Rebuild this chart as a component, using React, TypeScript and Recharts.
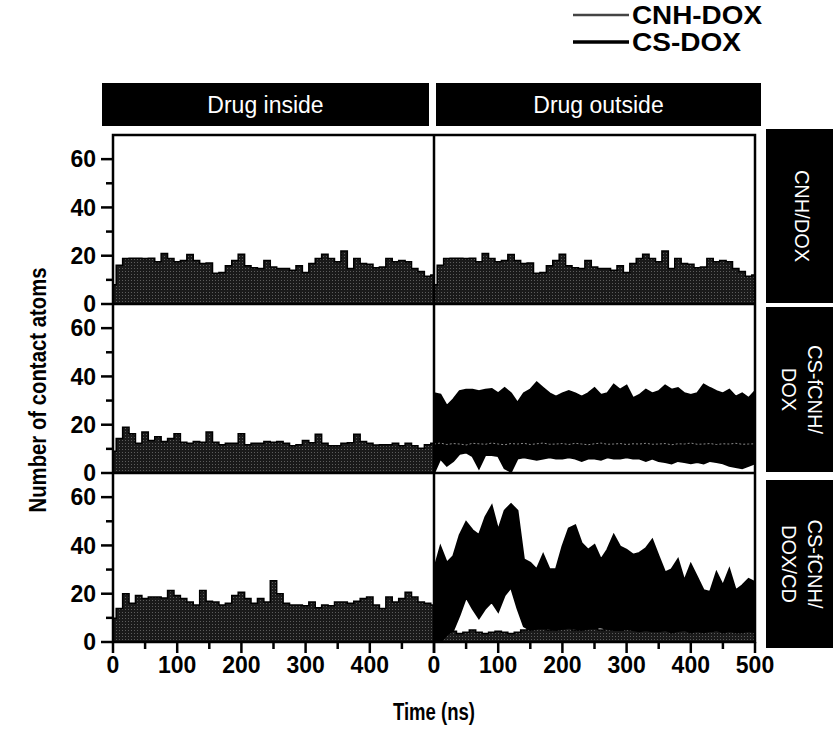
import React from 'react'
import { ComposedChart, Area, Line, XAxis, YAxis } from 'recharts'

// time axis of every panel (ns)
const TIME = [
  0, 10, 20, 30, 40, 50, 60, 70, 80, 90, 100, 110, 120, 130, 140, 150, 160, 170, 180, 190, 200,
  210, 220, 230, 240, 250, 260, 270, 280, 290, 300, 310, 320, 330, 340, 350, 360, 370, 380, 390,
  400, 410, 420, 430, 440, 450, 460, 470, 480, 490, 500,
]

// CNH/DOX row (the figure shows the same trace inside and outside)
const CNH_R1 = [
  8, 16, 18.8, 19, 19, 18.8, 19, 17.5, 20.9, 18.8, 17.5, 18, 20.5, 18, 16.8, 17, 12.7, 13, 15.8, 18,
  20.6, 15.8, 15, 14.7, 18, 15.3, 14.7, 14.7, 14, 15.8, 13, 16.8, 18.8, 20.6, 18.8, 17.5, 22, 14.7,
  18.8, 16.8, 16.5, 15, 15.3, 18.8, 17.5, 18, 17.5, 14.7, 13.5, 11.5, 12,
]

// CS-fCNH/DOX row
const CNH_R2_IN = [
  9, 14.3, 19, 16.3, 12.3, 17, 13.5, 15, 13, 14.3, 16.3, 12.7, 12.3, 13, 12.7, 17, 12.7, 11.7, 12.3,
  12.3, 16.3, 11.7, 12.3, 12.3, 13, 12.7, 13, 12.3, 11.3, 11.7, 13.5, 12.5, 16, 12.3, 11.3, 11.3,
  12.3, 12.5, 16, 13, 12.3, 11.6, 11.7, 11.7, 12.3, 11.3, 12.3, 11.3, 10.3, 11.7, 12.3,
]
const CNH_R2_OUT = [
  12, 12.4, 11.8, 12.2, 12, 11.6, 12.3, 12.1, 11.9, 12.4, 12, 11.7, 12.2, 12, 12.3, 11.8, 12.1, 12.4,
  11.9, 12, 12.2, 11.8, 12.3, 12, 11.7, 12.1, 12.4, 11.9, 12, 12.2, 11.8, 12.1, 12, 12.3, 11.9, 12,
  12.2, 11.7, 12.1, 12, 12.4, 11.9, 12, 12.2, 11.8, 12.1, 12, 12.3, 11.9, 12, 12.1,
]
const CS_R2_LOW = [
  0, 6, 3, 5, 8, 8.5, 7, 2, 7.5, 7.5, 7, 2, 0.5, 6, 6.5, 6, 5.5, 6, 6.5, 6, 6, 6.5, 6, 5, 6, 6, 5.5,
  6.5, 6, 6, 6.5, 6, 6, 5, 6, 5, 4.5, 4, 5, 4.5, 4, 4.5, 4, 5, 4.5, 4, 3, 2.5, 2, 3, 4,
]
const CS_R2_HIGH = [
  33, 32.5, 27.8, 30.5, 33.9, 34.5, 34.5, 33.9, 34.5, 34.8, 33, 35.2, 33, 29.1, 33, 34.5, 37.5, 35.2,
  33, 31.6, 33, 33.9, 33, 31.6, 33, 35.2, 32.3, 33, 36.6, 34.5, 36.2, 31, 32.3, 34.5, 33, 33.9, 36.2,
  34.5, 35.2, 33, 32.3, 33, 36.6, 35.2, 33.9, 33, 34.5, 31.6, 33, 31, 33.9,
]

// CS-fCNH/DOX/CD row
const CNH_R3_IN = [
  9.8, 13.9, 20, 16, 19.3, 18, 18.6, 18.6, 18.2, 21.3, 19.3, 18, 16.6, 15.3, 21.3, 16.9, 16.6, 15.3,
  16, 19.3, 20.6, 18, 16, 18, 16.6, 25.4, 20, 16, 15.3, 15.3, 15, 16.6, 14.2, 15.3, 15, 16.6, 16.6,
  16, 16.9, 18, 18.6, 15.3, 13.9, 18.6, 16.6, 18, 20.6, 18.6, 16.6, 16, 15.3,
]
const CNH_R3_OUT = [
  2, 3, 4, 4.5, 3.5, 4, 5, 4, 3.5, 4, 4.5, 4, 3.5, 4, 5, 5.5, 6, 5.5, 5, 6, 5.5, 6, 5, 5.5, 6, 5.5,
  5, 6, 5.5, 5, 6, 5.5, 5, 5.5, 6, 5, 5.5, 5, 5.5, 6, 5, 5.5, 5, 4.5, 5, 5.5, 5, 4.5, 5, 5.5, 5,
]
const CS_R3_LOW = [
  0, 0, 3, 4.8, 11.2, 18.6, 13.9, 9.9, 13.9, 16.6, 12.6, 19.3, 22.6, 13.9, 6.5, 5, 5.5, 6, 5.5, 5,
  5.5, 6, 5.5, 5, 5.5, 6, 6, 5.5, 5, 5, 5.5, 5, 4.5, 5, 4.5, 4.5, 5, 4, 4.5, 5, 4, 4.5, 4, 4.5, 5, 4,
  4.5, 4, 4, 4.5, 4,
]
const CS_R3_HIGH = [
  30, 39.5, 32.8, 35.5, 44.3, 49.7, 46.3, 44.3, 51.7, 56.4, 46.3, 54.4, 57.1, 54.4, 34.2, 32.8, 30.1,
  36.2, 30.1, 30.1, 39.5, 47, 48.3, 40.9, 38.2, 40.2, 34.2, 38.2, 44.3, 39.5, 38.2, 36.2, 36.9, 38.8,
  42.3, 35.5, 28.8, 30.1, 34.2, 25.4, 32.2, 26.8, 21.4, 20.7, 28.8, 23.4, 30.1, 21.4, 23.4, 26.1, 24.8,
]

const X_TICKS = [0, 50, 100, 150, 200, 250, 300, 350, 400, 450, 500]
const Y_TICKS = [0, 10, 20, 30, 40, 50, 60]
const ROW_LABELS = [['CNH/DOX'], ['CS-fCNH/', 'DOX'], ['CS-fCNH/', 'DOX/CD']]

const FONT = '"Liberation Sans", Arial, sans-serif'
const ROW_TOP = [135, 304, 473]
const ROW_H = 169
const COL_LEFT = [113, 434]
const COL_W = 321
const PAD = 30 // room round each plot so edge labels are not clipped

const build = (...cols: [string, number[]][]) =>
  TIME.map((t, i) => {
    const row: Record<string, number> = { t }
    cols.forEach(([k, v]) => (row[k] = v[i]))
    return row
  })

const P11 = build(['cnh', CNH_R1])
const P12 = build(['cnh', CNH_R1])
const P21 = build(['cnh', CNH_R2_IN])
const P22 = build(['cnhLine', CNH_R2_OUT], ['lo', CS_R2_LOW], ['hi', CS_R2_HIGH])
const P31 = build(['cnh', CNH_R3_IN])
const P32 = build(['cnh', CNH_R3_OUT], ['lo', CS_R3_LOW], ['hi', CS_R3_HIGH])

function YTick(props: any) {
  const { x, y, payload } = props
  const major = payload.value % 20 === 0
  return (
    <g>
      <line x1={x - (major ? 12 : 7)} x2={x} y1={y} y2={y} stroke="#000" strokeWidth={2.5} />
      {major && (
        <text x={x - 17} y={y} dy="0.36em" textAnchor="end" fontFamily={FONT} fontWeight="bold" fontSize={23} fill="#000">
          {payload.value}
        </text>
      )}
    </g>
  )
}

function XTick(props: any) {
  const { x, y, payload, last } = props
  const major = payload.value % 100 === 0
  const showLabel = major && (last || payload.value !== 500)
  return (
    <g>
      <line x1={x} x2={x} y1={y} y2={y + (major ? 11 : 7)} stroke="#000" strokeWidth={2.5} />
      {showLabel && (
        <text x={x} y={y + 31} textAnchor="middle" fontFamily={FONT} fontWeight="bold" fontSize={23} fill="#000">
          {payload.value}
        </text>
      )}
    </g>
  )
}

function Panel({ row, col, data, children }: { row: number; col: number; data: any[]; children: React.ReactNode }) {
  const yW = col === 0 ? 70 : 0
  const xH = row === 2 ? 40 : 0
  const pid = `speckle-${row}-${col}`
  return (
    <div style={{ position: 'absolute', left: COL_LEFT[col] - yW - PAD, top: ROW_TOP[row] - PAD }}>
      <ComposedChart
        width={COL_W + yW + 2 * PAD}
        height={ROW_H + xH + 2 * PAD}
        data={data}
        margin={{ top: PAD, right: PAD, bottom: PAD, left: PAD }}
      >
        <defs>
          <pattern id={pid} width="3" height="3" patternUnits="userSpaceOnUse">
            <rect width="3" height="3" fill="#1a1a1a" />
            <rect x="1" y="1" width="1" height="1" fill="#5c5c5c" />
          </pattern>
        </defs>
        <XAxis
          dataKey="t"
          type="number"
          domain={[0, 500]}
          ticks={X_TICKS}
          interval={0}
          hide={row !== 2}
          height={xH}
          axisLine={false}
          tickLine={false}
          tickSize={0}
          tickMargin={0}
          tick={<XTick last={col === 1} />}
        />
        <YAxis
          type="number"
          domain={[0, 70]}
          ticks={Y_TICKS}
          interval={0}
          hide={col !== 0}
          width={yW}
          axisLine={false}
          tickLine={false}
          tickSize={0}
          tickMargin={0}
          tick={<YTick />}
        />
        {children}
      </ComposedChart>
    </div>
  )
}

const greyArea = (row: number, col: number) => (
  <Area
    dataKey="cnh"
    type="step"
    stroke="#000"
    strokeWidth={1.5}
    fill={`url(#speckle-${row}-${col})`}
    fillOpacity={1}
    isAnimationActive={false}
    dot={false}
    activeDot={false}
  />
)

const csBand = (
  <Area
    dataKey={(d: any) => [d.lo, d.hi]}
    type="linear"
    stroke="#000"
    strokeWidth={2}
    fill="#000"
    fillOpacity={1}
    isAnimationActive={false}
    dot={false}
    activeDot={false}
  />
)

export default function App() {
  return (
    <div style={{ position: 'absolute', left: 0, top: 0, width: 833, height: 744, background: '#fff', overflow: 'hidden' }}>
      <Panel row={0} col={0} data={P11}>{greyArea(0, 0)}</Panel>
      <Panel row={0} col={1} data={P12}>{greyArea(0, 1)}</Panel>
      <Panel row={1} col={0} data={P21}>{greyArea(1, 0)}</Panel>
      <Panel row={1} col={1} data={P22}>
        {csBand}
        <Line
          dataKey="cnhLine"
          type="linear"
          stroke="#8a8a8a"
          strokeWidth={1}
          strokeDasharray="2 2"
          dot={false}
          activeDot={false}
          isAnimationActive={false}
        />
      </Panel>
      <Panel row={2} col={0} data={P31}>{greyArea(2, 0)}</Panel>
      <Panel row={2} col={1} data={P32}>
        {greyArea(2, 1)}
        {csBand}
      </Panel>

      <svg width={833} height={744} style={{ position: 'absolute', left: 0, top: 0, pointerEvents: 'none' }}>
        {/* legend */}
        <line x1={573} x2={629} y1={15} y2={15} stroke="#444" strokeWidth={2.5} />
        <text x={632} y={15} dy="0.36em" textLength={130} lengthAdjust="spacingAndGlyphs" fontFamily={FONT} fontWeight="bold" fontSize={26} fill="#000">
          CNH-DOX
        </text>
        <line x1={573} x2={629} y1={42} y2={42} stroke="#000" strokeWidth={3.5} />
        <text x={632} y={42} dy="0.36em" textLength={109} lengthAdjust="spacingAndGlyphs" fontFamily={FONT} fontWeight="bold" fontSize={26} fill="#000">
          CS-DOX
        </text>

        {/* column strips */}
        <rect x={102} y={83} width={327} height={43} fill="#000" />
        <text x={265.5} y={105} dy="0.35em" textAnchor="middle" fontFamily={FONT} fontSize={23} fill="#fff">Drug inside</text>
        <rect x={436} y={83} width={325} height={43} fill="#000" />
        <text x={598.5} y={105} dy="0.35em" textAnchor="middle" fontFamily={FONT} fontSize={23} fill="#fff">Drug outside</text>

        {/* row strips */}
        {[[129, 303], [307, 472], [480, 648]].map(([y0, y1], i) => {
          const cy = (y0 + y1) / 2
          const lines = ROW_LABELS[i]
          return (
            <g key={i}>
              <rect x={766} y={y0} width={67} height={y1 - y0} fill="#000" />
              <g transform={`translate(802 ${cy}) rotate(90)`}>
                {lines.map((s, j) => (
                  <text
                    key={j}
                    x={0}
                    y={(j - (lines.length - 1) / 2) * 26}
                    dy="0.35em"
                    textAnchor="middle"
                    fontFamily={FONT}
                    fontSize={20}
                    fill="#fff"
                  >
                    {s}
                  </text>
                ))}
              </g>
            </g>
          )
        })}

        {/* panel frames */}
        <rect x={113} y={135} width={642} height={507} fill="none" stroke="#000" strokeWidth={2.5} />
        <line x1={113} x2={755} y1={304} y2={304} stroke="#000" strokeWidth={2.5} />
        <line x1={113} x2={755} y1={473} y2={473} stroke="#000" strokeWidth={2.5} />
        <line x1={434} x2={434} y1={135} y2={642} stroke="#000" strokeWidth={2.5} />

        {/* axis titles */}
        <text x={0} y={0} transform="translate(38 390) rotate(-90)" dy="0.35em" textAnchor="middle" textLength={245} lengthAdjust="spacingAndGlyphs" fontFamily={FONT} fontWeight="bold" fontSize={24} fill="#000">
          Number of contact atoms
        </text>
        <text x={434} y={712} dy="0.35em" textAnchor="middle" textLength={82} lengthAdjust="spacingAndGlyphs" fontFamily={FONT} fontWeight="bold" fontSize={23} fill="#000">
          Time (ns)
        </text>
      </svg>
    </div>
  )
}
